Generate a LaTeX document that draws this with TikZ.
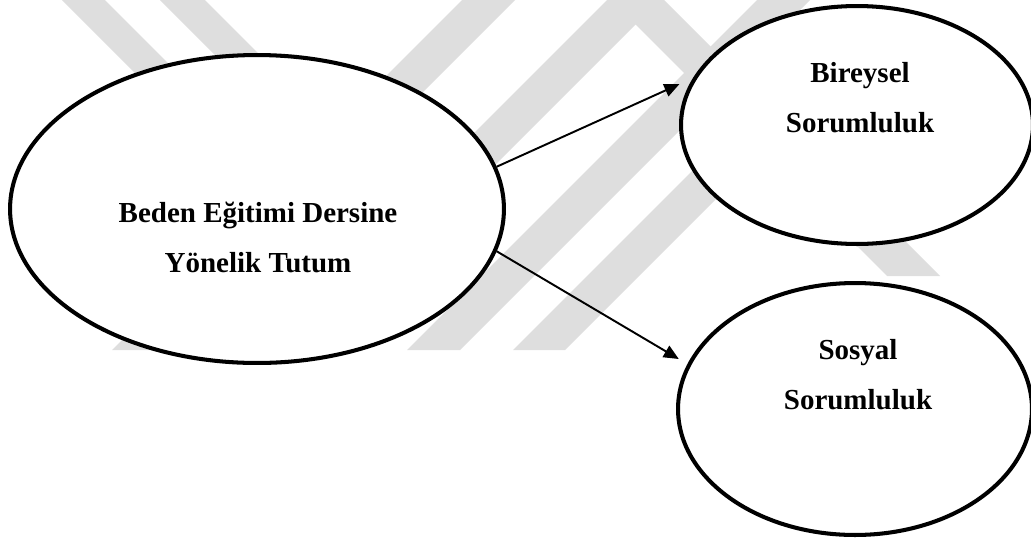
\documentclass[tikz,border=0pt]{standalone}
\usepackage{fontspec}
\setmainfont{Liberation Serif}
\usetikzlibrary{shapes.geometric,arrows.meta}

\definecolor{wmgray}{gray}{0.87}

\tikzset{
  konu/.style={ellipse, draw, line width=2.3pt, fill=white, inner sep=0pt},
  yazi/.style={align=center, inner sep=0pt,
    font=\fontsize{16.5}{28.45}\selectfont\bfseries},
  ok/.style={line width=1.1pt, -{Triangle[length=3mm,width=2.6mm]}, shorten >=0.2cm}
}

\begin{document}
\begin{tikzpicture}[x=0.02cm,y=-0.02cm]
        \useasboundingbox (0,0) rectangle (1031,542);

        % watermark
        \fill[wmgray] (62,0) -- (105,0) -- (300,195) -- (257,195) -- cycle;
        \fill[wmgray] (160,0) -- (205,0) -- (330,125) -- (285,125) -- cycle;
        \fill[wmgray] (112,350) -- (165,350) -- (515,0) -- (462,0) -- cycle;
        \fill[wmgray] (407,350) -- (460,350) -- (810,0) -- (757,0) -- cycle;
        \fill[wmgray] (607,0) -- (660,0) -- (410,250) -- (357,250) -- cycle;
        \fill[wmgray] (611,0) -- (664,0) -- (940,276) -- (887,276) -- cycle;
        \fill[wmgray] (513,350) -- (565,350) -- (900,15) -- (848,15) -- cycle;

        \node[konu, minimum width=9.88cm, minimum height=6.16cm] (tutum) at (257,209) {};
        \node[konu, minimum width=7.04cm, minimum height=4.76cm] (bireysel) at (857,125) {};
        \node[konu, minimum width=7.08cm, minimum height=5.04cm] (sosyal) at (855,409) {};

        \node[yazi] (tutumyazi) at (258,237) {Beden Eğitimi Dersine\\Yönelik Tutum};
        \node[yazi] (bireyselyazi) at (860,98) {Bireysel\\Sorumluluk};
        \node[yazi] (sosyalyazi) at (858,375) {Sosyal\\Sorumluluk};

        \draw[ok, shorten >=0.3cm] (tutum.10) -- (bireysel.164);
        \draw[ok] (tutum.-10) -- (sosyal.165);
      \end{tikzpicture}
\end{document}
